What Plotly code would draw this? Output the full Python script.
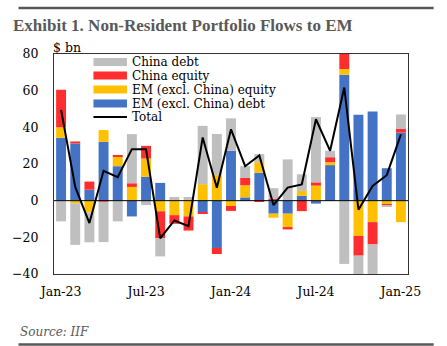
import plotly.graph_objects as go

months = ["Jan-23", "Feb-23", "Mar-23", "Apr-23", "May-23", "Jun-23", "Jul-23", "Aug-23",
          "Sep-23", "Oct-23", "Nov-23", "Dec-23", "Jan-24", "Feb-24", "Mar-24", "Apr-24",
          "May-24", "Jun-24", "Jul-24", "Aug-24", "Sep-24", "Oct-24", "Nov-24", "Dec-24", "Jan-25"]

em_debt = [34.3, 31.2, 6.0, 32.1, 18.8, -8.6, 13.0, 9.7, 0.0, 0.0, -6.4, -25.8, 27.2, 1.8,
           15.2, -7.1, -7.1, 2.6, -1.6, 19.4, 68.7, 46.9, 48.6, 17.7, 37.1]
em_equity = [5.7, -1.5, -6.4, 6.4, 5.1, 7.5, 10.0, -5.8, -7.9, -8.6, 9.0, 13.9, -2.9, 6.6,
             5.8, -2.2, -7.3, 2.7, 8.2, 1.6, 3.1, -19.2, -11.7, -2.2, -11.7]
china_equity = [20.5, 1.1, 4.4, -0.5, 0.9, 2.0, 6.9, -14.6, -4.7, -7.7, -0.7, -3.3, -2.7, 4.0,
                -0.7, 1.1, -1.3, -5.7, 1.8, 2.7, 24.4, -10.8, -12.2, -0.7, 2.0]
china_debt = [-11.3, -22.6, -16.3, -22.1, -11.3, 26.8, -2.4, -10.0, 2.0, 2.0, 31.8, 22.5, 17.7,
              6.4, 4.4, 5.7, 22.5, 9.1, 35.6, 3.5, -34.5, -21.8, -16.7, -0.5, 7.9]
total = [49.5, 7.5, -12.2, 16.3, 12.8, 28.1, 28.1, -20.6, -10.8, -13.9, 34.5, 7.1, 38.9, 18.8,
         24.7, -2.4, 7.1, 8.9, 44.4, 27.2, 61.7, -4.9, 8.0, 13.9, 36.2]

tick_labels = ["Jan-23", "Jul-23", "Jan-24", "Jul-24", "Jan-25"]
y_ticks = [-40, -20, 0, 20, 40, 60, 80]

C_GREY = "#BFBFBF"
C_RED = "#FF2D2D"
C_YELLOW = "#FFC000"
C_BLUE = "#4472C4"
FONT = "DejaVu Serif"
TITLE_FONT = "Liberation Serif"
GREY_TXT = "#595959"

series = [
    ("EM (excl. China) debt", em_debt, C_BLUE),
    ("EM (excl. China) equity", em_equity, C_YELLOW),
    ("China equity", china_equity, C_RED),
    ("China debt", china_debt, C_GREY),
]

fig = go.Figure()
for name, vals, col in series:
    fig.add_trace(go.Bar(x=months, y=vals, name=name, marker=dict(color=col, line=dict(width=0)),
                         showlegend=False))
fig.add_trace(go.Scatter(x=months, y=total, name="Total", mode="lines",
                         line=dict(color="black", width=2), showlegend=False))

# plot area pixel geometry helpers (for paper-coordinate decorations)
L, R, T, B = 49, 408, 54, 274
W_PIX, H_PIX = 447, 346
def px(xp):
    return (xp - L) / (R - L)
def py(yp):
    return (B - yp) / (B - T)

shapes = []
annotations = []

# zero line above bars
shapes.append(dict(type="line", xref="paper", x0=0, x1=1, yref="y", y0=0, y1=0,
                   line=dict(color="black", width=1), layer="above"))
# top and bottom rules
shapes.append(dict(type="line", xref="paper", yref="paper", x0=px(13), x1=px(434),
                   y0=py(8), y1=py(8), line=dict(color=GREY_TXT, width=2.5)))
shapes.append(dict(type="line", xref="paper", yref="paper", x0=px(13), x1=px(434),
                   y0=py(344.5), y1=py(344.5), line=dict(color=GREY_TXT, width=2.5)))

# custom legend
legend_items = [("China debt", C_GREY, "bar"), ("China equity", C_RED, "bar"),
                ("EM (excl. China) equity", C_YELLOW, "bar"),
                ("EM (excl. China) debt", C_BLUE, "bar"), ("Total", "black", "line")]
rows = [62, 75.5, 89.5, 103.5, 117]
for (lab, col, kind), yr in zip(legend_items, rows):
    if kind == "bar":
        shapes.append(dict(type="rect", xref="paper", yref="paper", x0=px(89), x1=px(123),
                           y0=py(yr + 4), y1=py(yr - 4), fillcolor=col, line=dict(width=0),
                           layer="above"))
    else:
        shapes.append(dict(type="line", xref="paper", yref="paper", x0=px(89), x1=px(123),
                           y0=py(yr), y1=py(yr), line=dict(color=col, width=2), layer="above"))
    annotations.append(dict(text=lab, xref="paper", yref="paper", x=px(127), y=py(yr),
                            xanchor="left", yanchor="middle", showarrow=False, borderpad=0,
                            font=dict(family=FONT, size=12, color="black")))

annotations.append(dict(text="$ bn", xref="paper", yref="paper", x=px(47), y=py(47),
                        xanchor="left", yanchor="middle", showarrow=False, borderpad=0,
                        font=dict(family=FONT, size=12.5, color="black")))
annotations.append(dict(text="<i>Source: IIF</i>", xref="paper", yref="paper", x=px(12), y=py(332),
                        xanchor="left", yanchor="middle", showarrow=False,
                        font=dict(family=FONT, size=12, color=GREY_TXT)))

fig.update_layout(
    width=W_PIX, height=H_PIX,
    margin=dict(l=L, r=W_PIX - R, t=T, b=H_PIX - B, pad=0),
    paper_bgcolor="white", plot_bgcolor="white",
    barmode="relative", bargap=0.3,
    title=dict(text="<b>Exhibit 1. Non-Resident Portfolio Flows to EM</b>",
               xref="container", yref="container", x=13 / W_PIX, y=1 - 25 / H_PIX,
               xanchor="left", yanchor="middle",
               font=dict(family=TITLE_FONT, size=17, color=GREY_TXT)),
    xaxis=dict(type="category", tickmode="array", tickvals=tick_labels, ticktext=tick_labels,
               showgrid=False, zeroline=False, showline=True, mirror=True, linecolor="#333333",
               linewidth=1, ticks="", ticklabelstandoff=6,
               tickfont=dict(family=FONT, size=12.5, color="black"), range=[-0.5, 24.5]),
    yaxis=dict(range=[-40, 80], tickvals=y_ticks, showgrid=False, zeroline=False,
               showline=True, mirror=True, linecolor="#333333", linewidth=1, ticks="",
               ticklabelstandoff=12, tickfont=dict(family=FONT, size=12.5, color="black")),
    shapes=shapes, annotations=annotations, showlegend=False,
)

fig.write_html("out.html")
